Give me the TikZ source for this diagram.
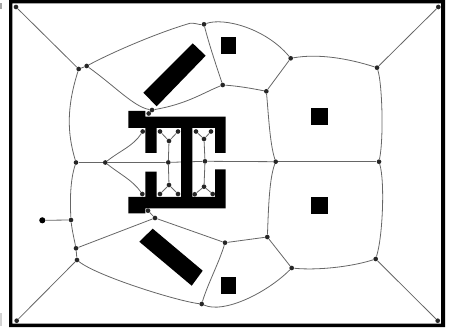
\documentclass[tikz,border=0pt]{standalone}
\usetikzlibrary{backgrounds}
\begin{document}
\begin{tikzpicture}[x=0.75pt,y=-0.75pt,
  dot/.style={circle,fill=black!85,inner sep=0pt,minimum size=3.5pt},
  bigdot/.style={circle,fill=black,inner sep=0pt,minimum size=4.6pt},
  link/.style={draw=black!60,line width=0.6pt},
  solid shape/.style={fill=black,draw=none}]
\useasboundingbox (0,0) rectangle (449,331);
\fill[black!35] (0,3) rectangle (1.5,9);
\fill[black!18] (0,313) rectangle (2,326);
% frame
\fill[black,even odd rule] (9,0) rectangle (445,327) (12.3,3.3) rectangle (441,323.7);
% nodes
\node[dot] (tl) at (16,7) {};
\node[dot] (tr) at (438.3,7) {};
\node[dot] (bl) at (16.7,320.7) {};
\node[dot] (br) at (437.7,320.7) {};
\node[dot] (a) at (78.7,69) {};
\node[dot] (b) at (86.7,66) {};
\node[dot] (c) at (204,24.3) {};
\node[dot] (d) at (222.7,85) {};
\node[dot] (e) at (152,110) {};
\node[dot] (f) at (148.7,113.5) {};
\node[dot] (g) at (290.7,58.3) {};
\node[dot] (h) at (377,67.7) {};
\node[dot] (i) at (266.3,91.3) {};
\node[dot] (j) at (275.7,161.7) {};
\node[dot] (k) at (379,161.7) {};
\node[dot] (l) at (76,162.5) {};
\node[dot] (m) at (105.3,162.5) {};
\node[dot] (n) at (168.3,162.4) {};
\node[dot] (o) at (205,161.3) {};
\node[dot] (p) at (71,220) {};
\node[bigdot] (q) at (42.3,220.3) {};
\node[dot] (r) at (76,248.3) {};
\node[dot] (s) at (77,260) {};
\node[dot] (t) at (155,218) {};
\node[dot] (u) at (148,210.7) {};
\node[dot] (v) at (225,242.7) {};
\node[dot] (w) at (201.7,304) {};
\node[dot] (x) at (267.3,237) {};
\node[dot] (y) at (291.7,268) {};
\node[dot] (z) at (375.7,259) {};
\node[dot] (ua) at (142.7,131.5) {};
\node[dot] (ub) at (160,131.5) {};
\node[dot] (uc) at (178,131.5) {};
\node[dot] (ud) at (169,141) {};
\node[dot] (ue) at (196,131.5) {};
\node[dot] (uf) at (211,131.5) {};
\node[dot] (ug) at (204,139) {};
\node[dot] (la) at (142.3,194) {};
\node[dot] (lb) at (160,194) {};
\node[dot] (lc) at (178,194) {};
\node[dot] (ld) at (169,185) {};
\node[dot] (le) at (194.7,194.3) {};
\node[dot] (lf) at (212.7,194) {};
\node[dot] (lg) at (204,186.7) {};
\begin{scope}[on background layer]
% connectors
\draw[link] (tl) -- (a);
\draw[link] (tr) -- (h);
\draw[link] (bl) -- (s);
\draw[link] (br) -- (z);
\draw[link] (a) -- (b);
\draw[link] (e) -- (f);
\draw[link] (r) -- (s);
\draw[link] (t) -- (u);
\draw[link] (g) -- (i);
\draw[link] (x) -- (y);
\draw[link] (p) -- (q);
\draw[link] (l) -- (m);
\draw[link] (m) -- (n);
\draw[link] (n) -- (o);
\draw[link] (o) -- (j);
\draw[link] (j) -- (k);
\draw[link] (t) -- (r);
\draw[link] (v) -- (t);
\draw[link] (v) -- (x);
\draw[link] (a) .. controls +(-12,38) and +(-9,-30) .. (l);
\draw[link] (l) .. controls +(-6,18) and +(-1,-18) .. (p);
\draw[link] (p) .. controls +(1,10) and +(-2,-10) .. (r);
\draw[link] (b) .. controls +(30,-16) and +(-28,8) .. (190,23.3) .. controls +(5,-0.5) and +(-5,0.5) .. (c);
\draw[link] (c) .. controls +(5,20) and +(-5,-15) .. (d);
\draw[link] (c) .. controls +(20,-7) and +(-25,-30) .. (g);
\draw[link] (d) .. controls +(-20,8) and +(35,-6) .. (e);
\draw[link] (d) .. controls +(15,1) and +(-15,-3) .. (i);
\draw[link] (b) .. controls +(28,20) and +(-18,-3) .. (e);
\draw[link] (g) .. controls +(28,-5) and +(-28,-9) .. (h);
\draw[link] (h) .. controls +(5,15) and +(5,-25) .. (k);
\draw[link] (k) .. controls +(6,20) and +(7,-22) .. (z);
\draw[link] (i) .. controls +(2,20) and +(-6,-18) .. (j);
\draw[link] (j) .. controls +(-7,18) and +(1,-20) .. (x);
\draw[link] (y) .. controls +(25,2.5) and +(-25,8) .. (z);
\draw[link] (y) .. controls +(-25,25) and +(22,10) .. (w);
\draw[link] (v) .. controls +(-6,20) and +(6,-20) .. (w);
\draw[link] (s) .. controls +(20,16) and +(-25,-3) .. (w);
\draw[link] (ua) .. controls +(-10,15) and +(15,-12) .. (m);
\draw[link] (la) .. controls +(-10,-14) and +(15,12) .. (m);
\draw[link] (ub) -- (ud);
\draw[link] (uc) -- (ud);
\draw[link] (ud) -- (n);
\draw[link] (n) -- (ld);
\draw[link] (ld) -- (lb);
\draw[link] (ld) -- (lc);
\draw[link] (ue) -- (ug);
\draw[link] (uf) -- (ug);
\draw[link] (ug) -- (o);
\draw[link] (o) -- (lg);
\draw[link] (lg) -- (le);
\draw[link] (lg) -- (lf);
% solid obstacles
\fill[solid shape] (128.3,111) -- (145.3,111) -- (145.3,116.7) -- (225.7,116.7) -- (225.7,153) -- (215,153) -- (215,128) -- (192.3,128) -- (192.3,197) -- (215,197) -- (215,169.3) -- (225.7,169.3) -- (225.7,208.3) -- (145.3,208.3) -- (145.3,213.3) -- (128.3,213.3) -- (128.3,197) -- (145.3,197) -- (145.3,171.7) -- (156.7,171.7) -- (156.7,197) -- (181,197) -- (181,128) -- (156.7,128) -- (156.7,153) -- (145.3,153) -- (145.3,128) -- (128.3,128) -- cycle;
\fill[solid shape] (220.7,37) rectangle (236,53.7);
\fill[solid shape] (311,108.3) rectangle (328,125);
\fill[solid shape] (311,197) rectangle (328,213.7);
\fill[solid shape] (220.7,277) rectangle (236,293.7);
\fill[solid shape] (192.7,43.3) -- (205.7,55.7) -- (156.7,106.3) -- (143.3,92.7) -- cycle;
\fill[solid shape] (152.7,228.7) -- (202.7,270.7) -- (191.7,285.7) -- (139.3,241.7) -- cycle;
\end{scope}
\end{tikzpicture}
\end{document}
